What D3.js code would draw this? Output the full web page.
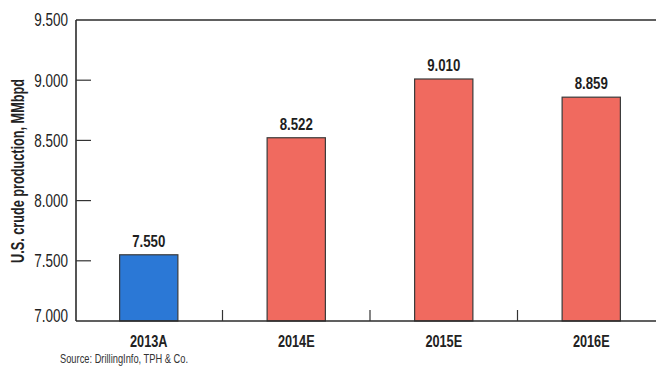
<!DOCTYPE html>
<meta charset="utf-8">
<title>U.S. crude production</title>
<style>
  body { margin: 0; padding: 0; background: #fff; overflow: hidden; }
  svg { display: block; font-family: "Liberation Sans Narrow", "Liberation Sans", "DejaVu Sans", sans-serif; }
  .frame line { stroke: #2b2b2b; stroke-width: 1.6; }
  .ticks line { stroke: #333; stroke-width: 1.2; }
  .bar { stroke: #3a3a3a; stroke-width: 1.2; }
  .tick-label { font-size: 18px; fill: #222; }
  .value { font-size: 17px; font-weight: bold; fill: #1e1e1e; }
  .cat { font-size: 16.5px; font-weight: bold; fill: #222; }
  .ytitle { font-size: 17.5px; font-weight: bold; fill: #222; }
  .source { font-size: 13px; fill: #333; }
</style>
<body>
<script src="https://cdn.jsdelivr.net/npm/d3@7"></script>
<script>
  // chart data
  var categories = ["2013A", "2014E", "2015E", "2016E"];
  var values = [7.550, 8.522, 9.010, 8.859];
  var barColors = ["#2b78d6", "#f06a5f", "#f06a5f", "#f06a5f"];
  var yTicks = [7.0, 7.5, 8.0, 8.5, 9.0, 9.5];

  var width = 656,
    height = 369;

  var plotLeft = 76, plotTop = 20, plotBottom = 321, plotRight = 665;
  // the source font is a very condensed sans, squeeze glyphs horizontally
  var squeeze = 0.77;

  var svg = d3.select("body").append("svg")
    .attr("width", width)
    .attr("height", height);

  var x = d3.scaleBand()
    .domain(categories)
    .range([75, plotRight]);

  var y = d3.scaleLinear()
    .domain([7.0, 9.5])
    .range([plotBottom, plotTop]);

  var fmt = d3.format(".3f");

  function place(px, py, k) {
    return "translate(" + px + "," + py + ") scale(" + (k || squeeze) + ",1)";
  }

  // bars
  var barW = x.bandwidth() * 0.395;
  svg.append("g").selectAll("rect").data(categories)
    .enter().append("rect")
    .attr("class", "bar")
    .attr("x", d => x(d) + x.bandwidth() / 2 - barW / 2)
    .attr("y", (d, i) => y(values[i]))
    .attr("width", barW)
    .attr("height", (d, i) => y(7.0) - y(values[i]))
    .attr("fill", (d, i) => barColors[i]);

  // value labels
  svg.append("g").selectAll("text").data(categories)
    .enter().append("text")
    .attr("class", "value")
    .attr("transform", (d, i) => place(x(d) + x.bandwidth() / 2, y(values[i]) - 8, 0.78))
    .attr("text-anchor", "middle")
    .text((d, i) => fmt(values[i]));

  // frame: left axis, top line, bottom axis
  var frame = svg.append("g").attr("class", "frame");
  frame.append("line").attr("x1", plotLeft).attr("x2", plotLeft).attr("y1", plotTop).attr("y2", plotBottom);
  frame.append("line").attr("x1", plotLeft).attr("x2", width).attr("y1", plotTop).attr("y2", plotTop);
  frame.append("line").attr("x1", plotLeft).attr("x2", width).attr("y1", plotBottom).attr("y2", plotBottom);

  // y ticks (inward) and labels
  var ticks = svg.append("g").attr("class", "ticks");
  ticks.selectAll("line.y").data(yTicks.filter(t => t > 7.0 && t < 9.5))
    .enter().append("line")
    .attr("x1", plotLeft).attr("x2", plotLeft + 15)
    .attr("y1", d => y(d)).attr("y2", d => y(d));

  // lowest label sits on the axis line rather than centred on it
  svg.append("g").selectAll("text").data(yTicks)
    .enter().append("text")
    .attr("class", "tick-label")
    .attr("transform", d => place(68, d === 7.0 ? y(d) - 5 : y(d), 0.75))
    .attr("dy", "0.36em")
    .attr("text-anchor", "end")
    .text(d => fmt(d));

  // x ticks between bands
  ticks.selectAll("line.x").data(categories.slice(1))
    .enter().append("line")
    .attr("x1", d => x(d)).attr("x2", d => x(d))
    .attr("y1", plotBottom).attr("y2", plotBottom - 11);

  // category labels
  svg.append("g").selectAll("text").data(categories)
    .enter().append("text")
    .attr("class", "cat")
    .attr("transform", d => place(x(d) + x.bandwidth() / 2, 347))
    .attr("text-anchor", "middle")
    .text(d => d);

  // y title
  svg.append("text")
    .attr("class", "ytitle")
    .attr("transform", "translate(24,171) rotate(-90)")
    .attr("text-anchor", "middle")
    .attr("textLength", 184)
    .attr("lengthAdjust", "spacingAndGlyphs")
    .text("U.S. crude production, MMbpd");

  svg.append("text")
    .attr("class", "source")
    .attr("x", 60)
    .attr("y", 363)
    .attr("textLength", 128)
    .attr("lengthAdjust", "spacingAndGlyphs")
    .text("Source: DrillingInfo, TPH & Co.");
</script>
</body>
